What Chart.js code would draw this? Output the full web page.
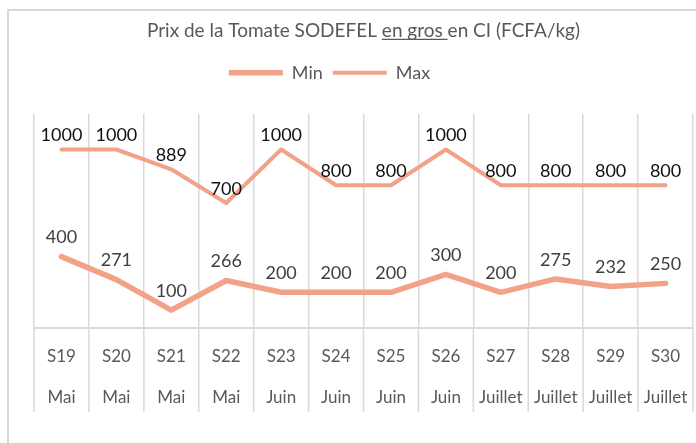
<!DOCTYPE html>
<html>
<head>
<meta charset="utf-8">
<script src="https://cdn.jsdelivr.net/npm/chart.js@4.4.1/dist/chart.umd.min.js"></script>
<style>
  html, body { margin: 0; padding: 0; background: #fff; overflow: hidden; }
  body { width: 696px; height: 443px; position: relative; }
  #frame { position: absolute; left: 7px; top: 9px; width: 760px; height: 500px;
           border-left: 2px solid #d9d9d9; border-top: 2px solid #d9d9d9; }
  #wrap { position: absolute; left: 9px; top: 11px; width: 696px; height: 432px; }
</style>
</head>
<body>
<div id="frame"></div>
<div id="wrap"><canvas id="chart"></canvas></div>
<script>
// --------------------
// Data
// --------------------
const weeks = ["S19", "S20", "S21", "S22", "S23", "S24", "S25", "S26", "S27", "S28", "S29", "S30"];
const months = ["Mai", "Mai", "Mai", "Mai", "Juin", "Juin", "Juin", "Juin", "Juillet", "Juillet", "Juillet", "Juillet"];
const minPrices = [400, 271, 100, 266, 200, 200, 200, 300, 200, 275, 232, 250];
const maxPrices = [1000, 1000, 889, 700, 1000, 800, 800, 1000, 800, 800, 800, 800];

const titleText = "Prix de la Tomate SODEFEL en gros en CI (FCFA/kg)";
const underlined = "en gros ";
const lineColor = "#F2A387";
const gridColor = "#d9d9d9";
const fontFamily = "Lato, 'Open Sans', sans-serif";
const titleSize = 19;

// --------------------
// Plugins
// --------------------
// value labels above each point
const valueLabels = {
  id: "valueLabels",
  afterDatasetsDraw(chart) {
    const ctx = chart.ctx;
    ctx.save();
    ctx.font = "18px " + fontFamily;
    ctx.textAlign = "center";
    ctx.textBaseline = "middle";
    chart.data.datasets.forEach((ds, i) => {
      const meta = chart.getDatasetMeta(i);
      ctx.fillStyle = ds.labelColor;
      meta.data.forEach((pt, j) => {
        ctx.fillText(ds.data[j], pt.x, pt.y - ds.labelOffset);
      });
    });
    ctx.restore();
  }
};

// underline "en gros " inside the title
const titleUnderline = {
  id: "titleUnderline",
  afterDraw(chart) {
    const tb = chart.titleBlock;
    const ctx = chart.ctx;
    ctx.save();
    ctx.font = titleSize + "px " + fontFamily;
    const full = ctx.measureText(titleText).width;
    const idx = titleText.indexOf(underlined);
    const pre = ctx.measureText(titleText.slice(0, idx)).width;
    const w = ctx.measureText(underlined).width;
    const cx = (tb.left + tb.right) / 2;
    const x0 = cx - full / 2 + pre;
    const y = tb.top + 8 + titleSize * 1.2 / 2 + 9;
    ctx.strokeStyle = "#595959";
    ctx.lineWidth = 1.3;
    ctx.beginPath();
    ctx.moveTo(x0, y);
    ctx.lineTo(x0 + w, y);
    ctx.stroke();
    ctx.restore();
  }
};

// extra room under the legend, and legend shifted a bit left
const legendGap = {
  id: "legendGap",
  beforeInit(chart) {
    const fit = chart.legend.fit;
    chart.legend.fit = function () {
      fit.bind(chart.legend)();
      this.height += 22;
    };
  },
  afterLayout(chart) {
    chart.legend.left -= 34;
    chart.legend.right -= 34;
  }
};

// separators between category labels (multi-level axis look)
const labelSeparators = {
  id: "labelSeparators",
  afterDraw(chart) {
    const s = chart.scales.x;
    const ctx = chart.ctx;
    const n = s.ticks.length;
    const half = (s.getPixelForTick(1) - s.getPixelForTick(0)) / 2;
    ctx.save();
    ctx.strokeStyle = gridColor;
    ctx.lineWidth = 1.5;
    ctx.beginPath();
    for (let i = 0; i <= n; i++) {
      const x = i < n ? s.getPixelForTick(i) - half : s.getPixelForTick(n - 1) + half;
      ctx.moveTo(x, s.top);
      ctx.lineTo(x, s.top + 84);
    }
    ctx.stroke();
    ctx.restore();
  }
};

// --------------------
// Chart
// --------------------
new Chart(document.getElementById("chart"), {
  type: "line",
  data: {
    labels: weeks.map((w, i) => [w, months[i]]),
    datasets: [
      { label: "Min", data: minPrices, borderColor: lineColor, backgroundColor: lineColor,
        borderWidth: 5.5, labelColor: "#404040", labelOffset: 19 },
      { label: "Max", data: maxPrices, borderColor: lineColor, backgroundColor: lineColor,
        borderWidth: 4, labelColor: "#111111", labelOffset: 14 }
    ]
  },
  options: {
    responsive: true,
    maintainAspectRatio: false,
    animation: false,
    layout: { padding: { left: 25, right: 12, top: 0, bottom: 16 } },
    elements: {
      point: { radius: 0, hoverRadius: 0 },
      line: { tension: 0, borderCapStyle: "round", borderJoinStyle: "round" }
    },
    plugins: {
      tooltip: { enabled: false },
      title: {
        display: true,
        text: titleText,
        color: "#595959",
        font: { family: fontFamily, size: titleSize, weight: "normal" },
        padding: { top: 8, bottom: 12 }
      },
      legend: {
        position: "top",
        labels: {
          color: "#595959",
          font: { family: fontFamily, size: 18 },
          usePointStyle: true,
          pointStyle: "line",
          pointStyleWidth: 54,
          padding: 10
        }
      }
    },
    scales: {
      x: {
        offset: true,
        grid: { offset: true, color: gridColor, lineWidth: 1.5, drawTicks: false },
        border: { color: gridColor, width: 2 },
        ticks: {
          color: "#595959",
          font: { family: fontFamily, size: 17, lineHeight: "41px" },
          padding: 8.5,
          maxRotation: 0,
          autoSkip: false
        }
      },
      y: { display: false, min: 0, max: 1200 }
    }
  },
  plugins: [valueLabels, titleUnderline, legendGap, labelSeparators]
});
</script>
</body>
</html>
